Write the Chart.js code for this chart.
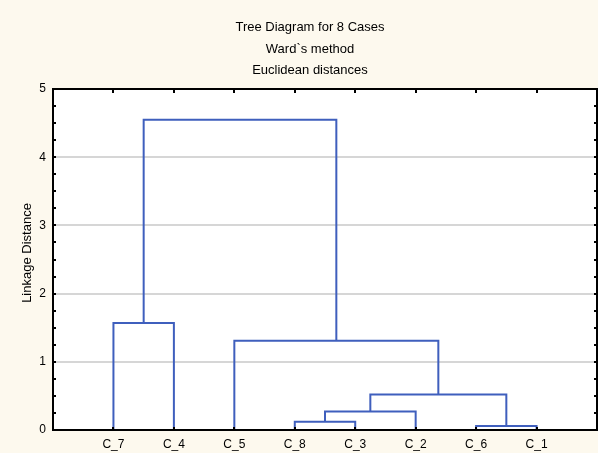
<!DOCTYPE html>
<html>
<head>
<meta charset="utf-8">
<script src="https://cdn.jsdelivr.net/npm/chart.js@4/dist/chart.umd.min.js"></script>
<style>
  html, body { margin: 0; padding: 0; background: #fdf9ee; }
  canvas { display: block; }
</style>
</head>
<body>
<canvas id="c" width="598" height="453"></canvas>
<script>
// Leaves in dendrogram order
const categories = ['C_7', 'C_4', 'C_5', 'C_8', 'C_3', 'C_2', 'C_6', 'C_1'];
// Merge steps: left node, right node, linkage distance
// nodes: leaf names, or "M1".."M7" for earlier merges
const mergeLeft   = ['C_6', 'C_8', 'M2',  'M3',  'C_5', 'C_7', 'M6'];
const mergeRight  = ['C_1', 'C_3', 'C_2', 'M1',  'M4',  'C_4', 'M5'];
const mergeHeight = [0.06,  0.12,  0.27,  0.52,  1.31,  1.57,  4.55];
const yTicks = [0, 1, 2, 3, 4, 5];
const titleLines = ['Tree Diagram for 8 Cases', 'Ward`s method', 'Euclidean distances'];
const yTitle = 'Linkage Distance';

const nodePos = {}, nodeH = {};
categories.forEach((c, i) => { nodePos[c] = i + 1; nodeH[c] = 0; });
const datasets = [];
mergeLeft.forEach((a, i) => {
  const b = mergeRight[i], h = mergeHeight[i];
  const xa = nodePos[a], xb = nodePos[b];
  datasets.push({
    data: [{x: xa, y: nodeH[a]}, {x: xa, y: h}, {x: xb, y: h}, {x: xb, y: nodeH[b]}],
    borderColor: '#3f5fbd', borderWidth: 2, pointRadius: 0, fill: false, tension: 0
  });
  const id = 'M' + (i + 1);
  nodePos[id] = (xa + xb) / 2; nodeH[id] = h;
});

const fam = "'Liberation Sans', Arial, sans-serif";

const framePlugin = {
  id: 'frame',
  beforeDraw(chart) {
    const {ctx, chartArea: a} = chart;
    ctx.save();
    ctx.fillStyle = '#fdf9ee';
    ctx.fillRect(0, 0, chart.width, chart.height);
    ctx.fillStyle = '#ffffff';
    ctx.fillRect(a.left, a.top, a.right - a.left, a.bottom - a.top);
    ctx.restore();
  },
  afterDraw(chart) {
    const {ctx, chartArea: a, scales} = chart;
    const ys = scales.y, xs = scales.x;
    ctx.save();
    ctx.strokeStyle = '#000';
    ctx.lineWidth = 2;
    ctx.strokeRect(a.left, a.top, a.right - a.left, a.bottom - a.top);
    ctx.beginPath();
    for (let v = 0.25; v < 5; v += 0.25) {
      const py = Math.round(ys.getPixelForValue(v));
      ctx.moveTo(a.left, py); ctx.lineTo(a.left + 3, py);
      ctx.moveTo(a.right, py); ctx.lineTo(a.right - 3, py);
    }
    categories.forEach((c, i) => {
      const px = Math.round(xs.getPixelForValue(i + 1));
      ctx.moveTo(px, a.top); ctx.lineTo(px, a.top + 4);
      ctx.moveTo(px, a.bottom); ctx.lineTo(px, a.bottom - 3);
    });
    ctx.stroke();
    // titles
    ctx.fillStyle = '#000';
    ctx.textAlign = 'center';
    ctx.textBaseline = 'alphabetic';
    ctx.font = '13px ' + fam;
    const baselines = [31, 52.5, 74];
    titleLines.forEach((t, i) => ctx.fillText(t, 310, baselines[i]));
    // y axis title
    ctx.translate(27, 253);
    ctx.rotate(-Math.PI / 2);
    ctx.textBaseline = 'middle';
    ctx.font = '13px ' + fam;
    ctx.fillText(yTitle, 0, 0);
    ctx.restore();
  }
};

const font = {family: fam, size: 12};

new Chart(document.getElementById('c'), {
  type: 'line',
  data: {datasets},
  plugins: [framePlugin],
  options: {
    responsive: false,
    devicePixelRatio: 1,
    animation: false,
    layout: {padding: {right: 1, top: 89}},
    plugins: {
      legend: {display: false},
      tooltip: {enabled: false},
      title: {display: false}
    },
    scales: {
      x: {
        type: 'linear', min: 0, max: 9,
        afterFit(s) { s.height = 23; },
        afterBuildTicks(s) { s.ticks = categories.map((c, i) => ({value: i + 1})); },
        ticks: {
          autoSkip: false, maxRotation: 0, padding: 7, color: '#000', font,
          callback: (v) => categories[v - 1] || ''
        },
        grid: {display: false, drawTicks: false},
        border: {display: false}
      },
      y: {
        min: 0, max: 5,
        afterFit(s) { s.width = 53; },
        afterBuildTicks(s) { s.ticks = yTicks.map(v => ({value: v})); },
        ticks: {padding: 7, color: '#000', font},
        grid: {
          drawTicks: false, lineWidth: 2,
          color: (ctx) => (ctx.tick && (ctx.tick.value === 0 || ctx.tick.value === 5)) ? 'rgba(0,0,0,0)' : '#d6d6d6'
        },
        border: {display: false}
      }
    }
  }
});
</script>
</body>
</html>
